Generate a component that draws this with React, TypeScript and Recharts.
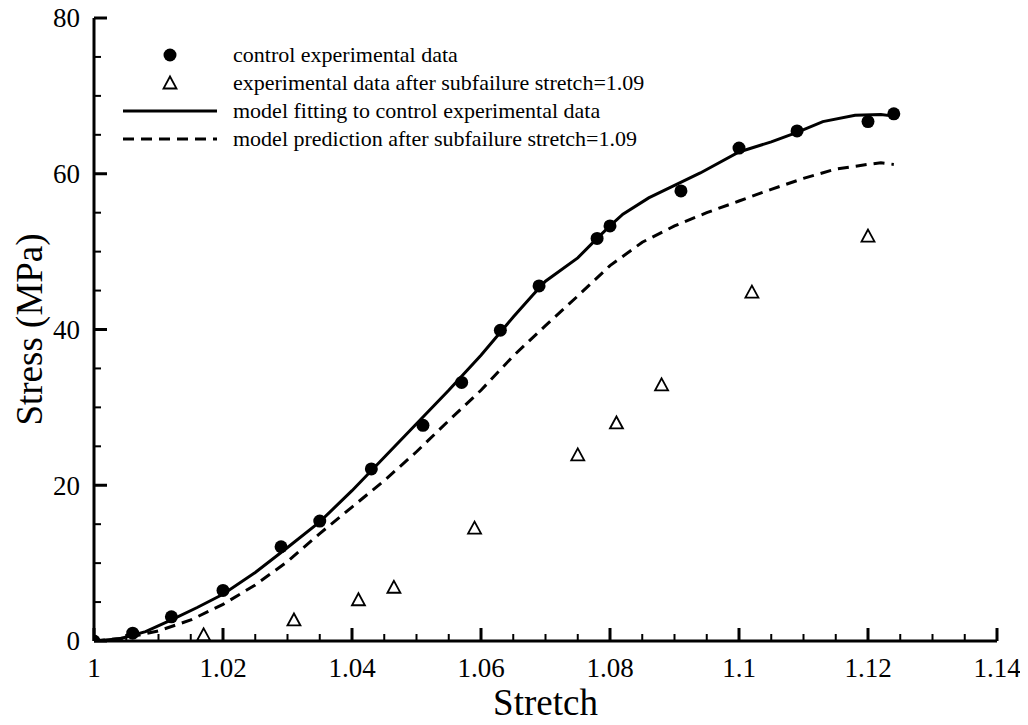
import { ComposedChart, Line, Scatter, XAxis, YAxis } from 'recharts'

// control experimental data (filled circles)
const ctrlX = [1.0, 1.006, 1.012, 1.02, 1.029, 1.035, 1.043, 1.051, 1.057, 1.063, 1.069, 1.078, 1.08, 1.091, 1.1, 1.109, 1.12, 1.124]
const ctrlY = [0, 1.0, 3.1, 6.5, 12.1, 15.4, 22.1, 27.7, 33.2, 39.9, 45.6, 51.7, 53.3, 57.8, 63.3, 65.5, 66.7, 67.7]

// data after subfailure stretch (open triangles)
const subX = [1.017, 1.031, 1.041, 1.0465, 1.059, 1.075, 1.081, 1.088, 1.102, 1.12]
const subY = [0.8, 2.7, 5.3, 6.9, 14.5, 23.9, 28.0, 32.9, 44.8, 52.0]

// model fit (solid)
const fitX = [1.0, 1.004, 1.008, 1.012, 1.016, 1.02, 1.025, 1.03, 1.035, 1.04, 1.045, 1.05, 1.055, 1.06, 1.065, 1.068, 1.07, 1.075, 1.078, 1.08, 1.082, 1.086, 1.09, 1.094, 1.1, 1.105, 1.109, 1.113, 1.118, 1.122, 1.124]
const fitY = [0, 0.3, 1.2, 2.7, 4.3, 6.0, 8.8, 12.0, 15.3, 19.3, 23.6, 27.9, 32.2, 36.7, 41.6, 44.4, 46.2, 49.2, 51.7, 53.3, 54.8, 56.9, 58.5, 60.1, 62.8, 64.1, 65.3, 66.7, 67.5, 67.6, 67.4]

// model prediction (dashed)
const predX = [1.0, 1.005, 1.01, 1.015, 1.02, 1.025, 1.03, 1.035, 1.04, 1.045, 1.05, 1.055, 1.06, 1.065, 1.07, 1.075, 1.08, 1.085, 1.09, 1.095, 1.1, 1.105, 1.11, 1.115, 1.12, 1.122, 1.124]
const predY = [0, 0.4, 1.3, 2.7, 4.7, 7.2, 10.2, 13.8, 17.2, 20.6, 24.3, 28.3, 32.2, 36.6, 40.5, 44.3, 48.2, 51.2, 53.3, 55.0, 56.5, 58.0, 59.4, 60.6, 61.2, 61.4, 61.2]

const xMajor = [1, 1.02, 1.04, 1.06, 1.08, 1.1, 1.12, 1.14]
const yMajor = [0, 20, 40, 60, 80]

const legendLabels = [
  'control experimental data',
  'experimental data after subfailure stretch=1.09',
  'model fitting to control experimental data',
  'model prediction after subfailure stretch=1.09',
]

const FONT = '"Liberation Serif", "Times New Roman", serif'

const zip = (xs: number[], ys: number[]) => xs.map((x, i) => ({ x, y: ys[i] }))
const ctrlData = zip(ctrlX, ctrlY)
const subData = zip(subX, subY)
const fitData = zip(fitX, fitY)
const predData = zip(predX, predY)

// 4 minor intervals per major step
const subdivide = (majors: number[]) => {
  const out: number[] = []
  for (let i = 0; i < majors.length - 1; i++) {
    const step = (majors[i + 1] - majors[i]) / 4
    for (let k = 0; k < 4; k++) out.push(majors[i] + k * step)
  }
  out.push(majors[majors.length - 1])
  return out
}
const xTicks = subdivide(xMajor)
const yTicks = subdivide(yMajor)

const isMajor = (v: number, majors: number[]) => majors.some((m) => Math.abs(m - v) < 1e-7)
const fmt = (v: number) => String(Number(v.toFixed(3)))

const XTick = (props: any) => {
  const { x, y, payload } = props
  const major = isMajor(payload.value, xMajor)
  return (
    <g>
      <line x1={x} x2={x} y1={y} y2={y - (major ? 13 : 7)} stroke="#000" strokeWidth={major ? 3 : 2} />
      {major && (
        <text x={x} y={y + 36} textAnchor="middle" fontSize={27} fontFamily={FONT} fill="#000">
          {fmt(payload.value)}
        </text>
      )}
    </g>
  )
}

const YTick = (props: any) => {
  const { x, y, payload } = props
  const major = isMajor(payload.value, yMajor)
  return (
    <g>
      <line x1={x} x2={x + (major ? 13 : 7)} y1={y} y2={y} stroke="#000" strokeWidth={major ? 3 : 2} />
      {major && (
        <text x={x - 14} y={y} dy="0.35em" textAnchor="end" fontSize={27} fontFamily={FONT} fill="#000">
          {fmt(payload.value)}
        </text>
      )}
    </g>
  )
}

const Dot = (p: any) => <circle cx={p.cx} cy={p.cy} r={6.5} fill="#000" />
const Tri = (p: any) => (
  <polygon
    points={`${p.cx},${p.cy - 6.5} ${p.cx - 6.5},${p.cy + 5.5} ${p.cx + 6.5},${p.cy + 5.5}`}
    fill="#fff"
    stroke="#000"
    strokeWidth={1.8}
  />
)

function LegendBox() {
  const marks = [
    <circle cx={50} cy={14} r={6.5} fill="#000" />,
    <polygon points="50,7.5 43.5,19.5 56.5,19.5" fill="#fff" stroke="#000" strokeWidth={1.8} />,
    <line x1={3} x2={97} y1={14} y2={14} stroke="#000" strokeWidth={3} />,
    <line x1={3} x2={97} y1={14} y2={14} stroke="#000" strokeWidth={3} strokeDasharray="11 7" />,
  ]
  return (
    <div style={{ position: 'absolute', left: 112, top: 41, fontFamily: FONT, fontSize: 22, color: '#000' }}>
      {legendLabels.map((label, i) => (
        <div key={label} style={{ display: 'flex', alignItems: 'center', height: 28 }}>
          <svg width={100} height={28}>{marks[i]}</svg>
          <span style={{ marginLeft: 13, whiteSpace: 'nowrap' }}>{label}</span>
        </div>
      ))}
    </div>
  )
}

export default function App() {
  return (
    <div style={{ position: 'relative', width: 1012, height: 725, marginTop: -8 }}>
      <ComposedChart width={1012} height={725} margin={{ top: 18, right: 23, bottom: 0, left: 0 }}>
        <XAxis
          dataKey="x"
          type="number"
          domain={[1, 1.14]}
          ticks={xTicks}
          interval={0}
          allowDataOverflow
          height={84}
          tickSize={0}
          tickMargin={0}
          tickLine={false}
          tick={<XTick />}
          axisLine={{ stroke: '#000', strokeWidth: 3 }}
          label={{ value: 'Stretch', position: 'insideBottom', offset: 10, fontSize: 37, fontFamily: FONT, fill: '#000' }}
        />
        <XAxis xAxisId="top" orientation="top" type="number" domain={[1, 1.14]} height={0} tick={false} tickLine={false} axisLine={{ stroke: '#000', strokeWidth: 3 }} />
        <YAxis
          type="number"
          domain={[0, 80]}
          ticks={yTicks}
          interval={0}
          allowDataOverflow
          width={86}
          tickSize={0}
          tickMargin={0}
          tickLine={false}
          tick={<YTick />}
          axisLine={{ stroke: '#000', strokeWidth: 3 }}
          label={{
            value: 'Stress (MPa)',
            angle: -90,
            position: 'insideLeft',
            offset: 21,
            fontSize: 37,
            fontFamily: FONT,
            fill: '#000',
            style: { textAnchor: 'middle' },
          }}
        />
        <YAxis yAxisId="right" orientation="right" type="number" domain={[0, 80]} width={0} tick={false} tickLine={false} axisLine={{ stroke: '#000', strokeWidth: 3 }} />
        <Line data={predData} dataKey="y" type="linear" stroke="#000" strokeWidth={3} strokeDasharray="11 7" dot={false} activeDot={false} isAnimationActive={false} />
        <Line data={fitData} dataKey="y" type="linear" stroke="#000" strokeWidth={3} dot={false} activeDot={false} isAnimationActive={false} />
        <Scatter data={subData} dataKey="y" shape={Tri} isAnimationActive={false} />
        <Scatter data={ctrlData} dataKey="y" shape={Dot} isAnimationActive={false} />
      </ComposedChart>
      <LegendBox />
    </div>
  )
}
